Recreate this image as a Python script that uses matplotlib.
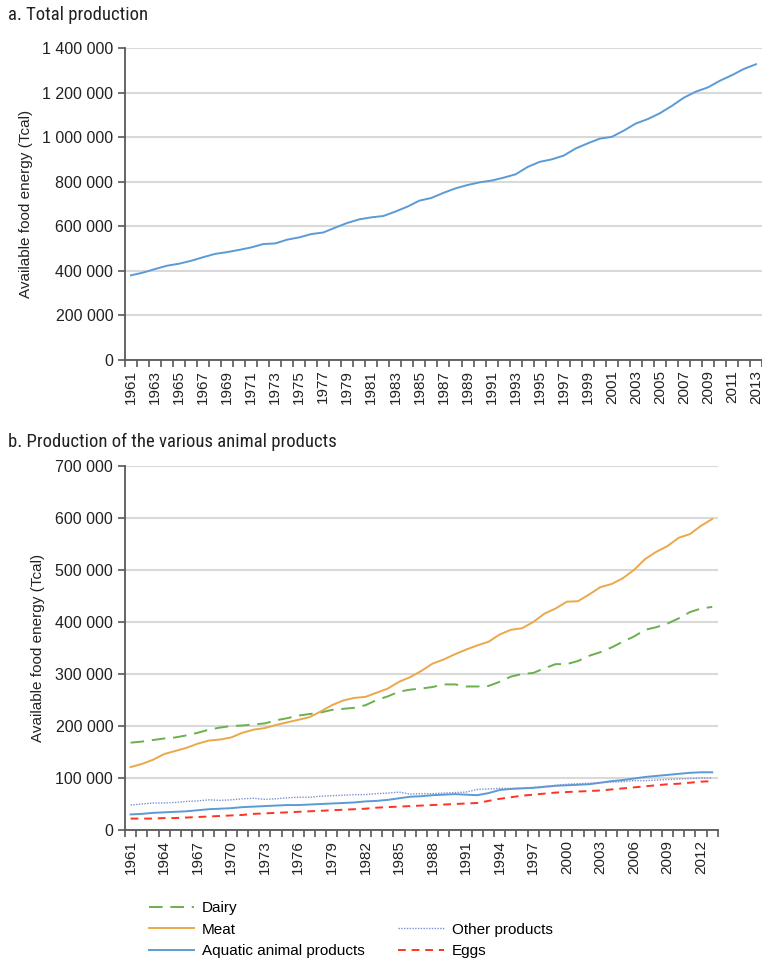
import numpy as np
import matplotlib
matplotlib.use("Agg")
import matplotlib.pyplot as plt
from matplotlib import font_manager
from matplotlib.ticker import FuncFormatter, MultipleLocator

plt.rcParams['font.family'] = ['Liberation Sans', 'DejaVu Sans']

years = list(range(1961, 2014))

# a. total production (Tcal)
total = [380000, 392000, 408000, 423000, 432000, 445000, 461000, 476000, 484000, 494000,
         505000, 520000, 523000, 540000, 550000, 565000, 572000, 594000, 615000, 631000,
         640000, 646000, 666000, 688000, 715000, 727000, 750000, 770000, 785000, 797000,
         805000, 818000, 833000, 866000, 889000, 900000, 917000, 949000, 972000, 993000,
         1001000, 1029000, 1061000, 1081000, 1107000, 1140000, 1177000, 1204000, 1223000,
         1253000, 1278000, 1306000, 1327000]

# b. animal products (thousand Tcal)
dairy = [168, 170, 173, 176, 178, 182, 187, 193, 197, 200, 201, 203, 205, 211, 215, 220,
         223, 226, 231, 233, 235, 240, 250, 257, 266, 270, 272, 275, 280, 280, 276, 276,
         277, 285, 295, 300, 302, 311, 319, 319, 325, 335, 342, 351, 362, 372, 385, 390,
         397, 407, 419, 426, 429]
meat = [121, 127, 135, 146, 152, 158, 166, 172, 174, 178, 187, 193, 196, 202, 207, 212,
        217, 228, 240, 249, 254, 256, 264, 272, 285, 294, 306, 320, 328, 338, 347, 355,
        362, 376, 385, 388, 400, 416, 426, 439, 440, 453, 467, 473, 484, 500, 521, 535,
        546, 562, 569, 585, 598]
aquatic = [30, 31, 33, 34, 35, 36, 38, 40, 41, 42, 44, 45, 46, 47, 48, 48, 49, 50, 51, 52,
           53, 55, 56, 58, 61, 64, 65, 67, 68, 69, 68, 67, 71, 77, 79, 80, 81, 83, 85, 86,
           87, 88, 91, 94, 96, 99, 102, 104, 106, 108, 110, 111, 111]
other = [48, 50, 52, 52, 53, 55, 56, 58, 57, 58, 60, 61, 59, 60, 62, 63, 63, 65, 66, 67,
         68, 68, 70, 71, 73, 69, 70, 70, 71, 72, 73, 78, 79, 80, 80, 81, 82, 84, 86, 88,
         89, 90, 91, 92, 93, 95, 95, 96, 97, 98, 99, 100, 100]
eggs = [22, 22, 22, 23, 23, 24, 25, 26, 27, 28, 29, 31, 32, 33, 34, 35, 36, 37, 38, 39,
        40, 41, 43, 44, 45, 46, 47, 48, 49, 50, 51, 52, 56, 60, 63, 66, 68, 70, 72, 73,
        74, 75, 76, 78, 80, 82, 84, 86, 88, 89, 91, 93, 94]

x = np.arange(len(years))
spine_col = '#595959'
grid_col = '#D9D9D9'
space_fmt = FuncFormatter(lambda v, p: f"{v:,.0f}".replace(',', ' '))

# panel titles use a narrow face if one is installed
installed = {f.name for f in font_manager.fontManager.ttflist}
title_font, title_size = 'Liberation Sans', 12
for name in ['Liberation Sans Narrow', 'Roboto Condensed', 'Open Sans Condensed']:
    if name in installed:
        title_font, title_size = name, 13.5
        break

fig = plt.figure(figsize=(7.62, 9.61), dpi=100)
ax1 = fig.add_axes([0.164, 0.6254, 0.836, 0.3247])
ax2 = fig.add_axes([0.164, 0.1363, 0.778, 0.3788])


def style(ax, ymax, ystep, label_every):
    ax.set_xlim(-0.5, len(years) - 0.5)
    ax.set_ylim(0, ymax)
    ax.yaxis.set_major_locator(MultipleLocator(ystep))
    ax.yaxis.set_major_formatter(space_fmt)
    ax.grid(axis='y', color=grid_col, linewidth=1.5)
    ax.set_axisbelow(True)
    for s in ['top', 'right']:
        ax.spines[s].set_visible(False)
    for s in ['left', 'bottom']:
        ax.spines[s].set_color(spine_col)
        ax.spines[s].set_linewidth(1.3)
    ax.set_xticks(x[::label_every])
    ax.set_xticklabels([str(y) for y in years[::label_every]], rotation=90)
    ax.set_xticks(np.arange(-0.5, len(years), 1), minor=True)
    ax.tick_params(axis='x', which='major', length=0, pad=7, labelsize=11, colors='#222222')
    ax.tick_params(axis='x', which='minor', length=5, width=1.2, color=spine_col)
    ax.tick_params(axis='y', length=5, width=1.2, color=spine_col, labelsize=11.5,
                   labelcolor='#222222')
    ax.set_ylabel('Available food energy (Tcal)', fontsize=11, color='#222222')


style(ax1, 1400000, 200000, 2)
ax1.plot(x, total, color='#5B9BD5', linewidth=1.4)
ax1.yaxis.set_label_coords(-0.145, 0.5)

style(ax2, 700000, 100000, 3)
k = 1000
ax2.plot(x, np.array(dairy) * k, color='#6AB04C', linewidth=1.4, linestyle=(0, (7, 4)), label='Dairy')
ax2.plot(x, np.array(meat) * k, color='#EBA84A', linewidth=1.4, label='Meat')
ax2.plot(x, np.array(aquatic) * k, color='#5B9BD5', linewidth=1.4, label='Aquatic animal products')
ax2.plot(x, np.array(other) * k, color='#7F8FD0', linewidth=1.0, linestyle=(0, (1, 1)), label='Other products')
ax2.plot(x, np.array(eggs) * k, color='#FF3322', linewidth=1.4, linestyle=(0, (4, 3)), label='Eggs')
ax2.yaxis.set_label_coords(-0.135, 0.5)

fig.text(0.010, 0.984, 'a. Total production', fontsize=title_size, va='center', ha='left',
         family=[title_font, 'DejaVu Sans'], color='#222222')
fig.text(0.010, 0.540, 'b. Production of the various animal products', fontsize=title_size,
         va='center', ha='left', family=[title_font, 'DejaVu Sans'], color='#222222')

# legend: two columns, first cell of the second column left blank
h, l = ax2.get_legend_handles_labels()
blank = plt.Line2D([], [], linestyle='none')
handles = [h[0], h[1], h[2], blank, h[3], h[4]]
labels = [l[0], l[1], l[2], '', l[3], l[4]]
fig.legend(handles, labels, loc='upper left', bbox_to_anchor=(0.185, 0.0705), ncol=2,
           frameon=False, fontsize=11, handlelength=3.0, labelspacing=0.5,
           columnspacing=2.2, handletextpad=0.5, borderpad=0)

fig.savefig('out.png', dpi=100)
